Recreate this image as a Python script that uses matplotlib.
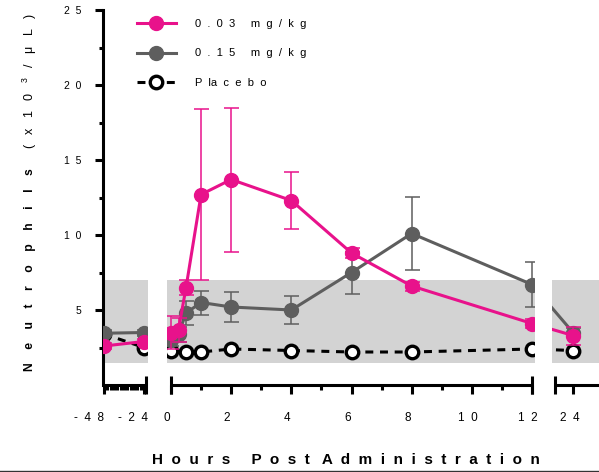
import numpy as np
import matplotlib
matplotlib.use('Agg')
import matplotlib.pyplot as plt
from matplotlib.lines import Line2D
import matplotlib.transforms as mtransforms

plt.rcParams['font.family'] = ['Liberation Sans', 'DejaVu Sans']
plt.rcParams['mathtext.fontset'] = 'custom'
plt.rcParams['mathtext.rm'] = 'Liberation Sans'

# ---------------- data ----------------
hours_drug = [-48, -24, 0, 0.25, 0.5, 1, 2, 4, 6, 8, 12, 24]
low_dose_mean = [2.6, 2.9, 3.5, 3.7, 6.5, 12.7, 13.7, 12.3, 8.8, 6.6, 4.1, 3.3]
low_dose_err = [0.2, 0.2, 1.1, 0.8, 0.5, 5.7, 4.8, 1.9, 0.3, 0.3, 0.3, 0.6]
high_dose_mean = [3.45, 3.5, 3.0, 3.4, 4.8, 5.5, 5.2, 5.0, 7.5, 10.1, 6.7, 3.5]
high_dose_err = [0.2, 0.2, 0.4, 0.5, 0.8, 0.8, 1.0, 0.95, 1.4, 2.45, 1.5, 0.3]
hours_placebo = [-48, -24, 0, 0.5, 1, 2, 4, 6, 8, 12, 24]
placebo_mean = [3.4, 2.5, 2.3, 2.2, 2.2, 2.4, 2.3, 2.2, 2.2, 2.4, 2.3]
normal_range = [1.5, 7.0]

labels = ['0  .  0  3     m  g  /  k  g', '0  .  1  5     m  g  /  k  g', 'P  la  c  e  b  o']
major_ticks = [-48, -24, 0, 2, 4, 6, 8, 10, 12, 24]
major_ticklabels = ['-  4  8', '-  2  4', '0', '2', '4', '6', '8', '1  0', '1  2', '2  4']
minor_ticks = list(range(-46, -24, 2)) + [1, 3, 5, 7, 9, 11]
y_ticks = [5, 10, 15, 20, 25]
y_ticklabels = ['5', '1  0', '1  5', '2  0', '2  5']

PINK = '#E8128B'
GREY = '#5E5E5E'
BAND = '#D3D3D3'

# ---------------- broken x scale (piecewise linear) ----------------
H_BRK = np.array([-50, -48, -24, 0, 12, 24, 26], dtype=float)
P_BRK = np.array([100.67, 104, 144, 171, 532, 573, 633], dtype=float)

def fwd(h):
    return np.interp(np.asarray(h, dtype=float), H_BRK, P_BRK)

def inv(p):
    return np.interp(np.asarray(p, dtype=float), P_BRK, H_BRK)

W, Hh = 599, 472
fig = plt.figure(figsize=(W / 100, Hh / 100), dpi=100)
ax = fig.add_axes([103 / W, 87 / Hh, (605 - 103) / W, 375 / Hh])
ax.set_xscale('function', functions=(fwd, inv))
ax.set_xlim(float(inv(103)), float(inv(605)))
ax.set_ylim(0, 25)

# normal range band
ax.axhspan(normal_range[0], normal_range[1], color=BAND, lw=0, zorder=0)

# placebo
ax.plot(hours_placebo, placebo_mean, color='black', lw=2.2, ls=(0, (2.6, 2.2)),
        marker='o', ms=9, mfc='white', mec='black', mew=2.4, zorder=3)
# 0.15 mg/kg
ax.errorbar(hours_drug, high_dose_mean, yerr=high_dose_err, color=GREY, lw=2.2,
            marker='o', ms=10, mfc=GREY, mec=GREY, ecolor=GREY, elinewidth=1.1,
            capsize=5.4, capthick=1.1, zorder=4)
# 0.03 mg/kg
ax.errorbar(hours_drug, low_dose_mean, yerr=low_dose_err, color=PINK, lw=2.2,
            marker='o', ms=10, mfc=PINK, mec=PINK, ecolor=PINK, elinewidth=1.1,
            capsize=5.4, capthick=1.1, zorder=5)

# white gaps of the broken axis
for p0, p1 in [(148, 167), (535, 552)]:
    ax.axvspan(float(inv(p0)), float(inv(p1)), color='white', lw=0, zorder=6)

# spines
for s in ['top', 'right', 'bottom']:
    ax.spines[s].set_visible(False)
ax.spines['left'].set_linewidth(2.2)

# broken x axis line segments with end caps
bt = mtransforms.blended_transform_factory(ax.transData, ax.transAxes)
for p0, p1 in [(103, 146), (171, 532), (555, 605)]:
    ax.plot([float(inv(p0)), float(inv(p1))], [0, 0], color='black', lw=2.2,
            transform=bt, clip_on=False, zorder=7, solid_capstyle='butt')
for pc in [146, 171, 532, 555]:
    ax.plot([float(inv(pc))] * 2, [-0.024, 0.024], color='black', lw=2.2,
            transform=bt, clip_on=False, zorder=7, solid_capstyle='butt')

ax.set_xticks(major_ticks)
ax.set_xticklabels(major_ticklabels, fontsize=8.5)
ax.set_xticks(minor_ticks, minor=True)
ax.tick_params(axis='x', which='major', length=6.5, width=2.2, pad=13)
ax.tick_params(axis='x', which='minor', length=3.6, width=2.2)
offsets = [-15, -11, -4, -4, -4, -4, -4, -4, -4, -3]
for lab, off in zip(ax.get_xticklabels(), offsets):
    lab.set_transform(lab.get_transform() +
                      mtransforms.ScaledTranslation(off / 100, 0, fig.dpi_scale_trans))

ax.set_yticks(y_ticks)
ax.set_yticklabels(y_ticklabels, fontsize=7.5)
ax.set_yticks([2.5, 7.5, 12.5, 17.5, 22.5], minor=True)
ax.tick_params(axis='y', which='major', length=5.8, width=2.2, pad=10)
ax.tick_params(axis='y', which='minor', length=2.9, width=2.2)

# legend
handles = [
    Line2D([], [], color=PINK, lw=2.2, marker='o', ms=10, mfc=PINK, mec=PINK),
    Line2D([], [], color=GREY, lw=2.2, marker='o', ms=10, mfc=GREY, mec=GREY),
    Line2D([], [], color='black', lw=2.2, ls=(0, (2.6, 2.2)), marker='o', ms=9,
           mfc='white', mec='black', mew=2.4),
]
leg = ax.legend(handles, labels, loc='upper left', bbox_to_anchor=(137 / W, 1 - 19 / Hh),
                bbox_transform=fig.transFigure, frameon=False, fontsize=8,
                handlelength=3.5, handletextpad=1.7, labelspacing=1.75,
                borderpad=0, borderaxespad=0)
leg.set_zorder(20)

# axis titles
fig.text(346 / W, 1 - 460 / Hh,
         'H  o  u  r  s     P  o  s  t   A  d  m  i  n  i  s  t  r  a  t  i  o  n',
         ha='center', va='center', fontsize=11, fontweight='bold')
t1 = fig.text(30 / W, 1 - 371 / Hh, 'N    e    u    t    r    o    p    h    i    l    s',
              rotation=90, ha='center', va='bottom', fontsize=8.75, fontweight='bold')
fig.canvas.draw()
bb = t1.get_window_extent()
fig.text(30 / W, (bb.y1 + 19) / Hh, '(   x   1   0   $^{3}$   /   μ   L   )',
         rotation=90, ha='center', va='bottom', fontsize=9)

# bottom rule
fig.add_artist(Line2D([0, 1], [1.3 / Hh, 1.3 / Hh], transform=fig.transFigure,
                      color='#333333', lw=1))

fig.savefig('out.png', dpi=100)
